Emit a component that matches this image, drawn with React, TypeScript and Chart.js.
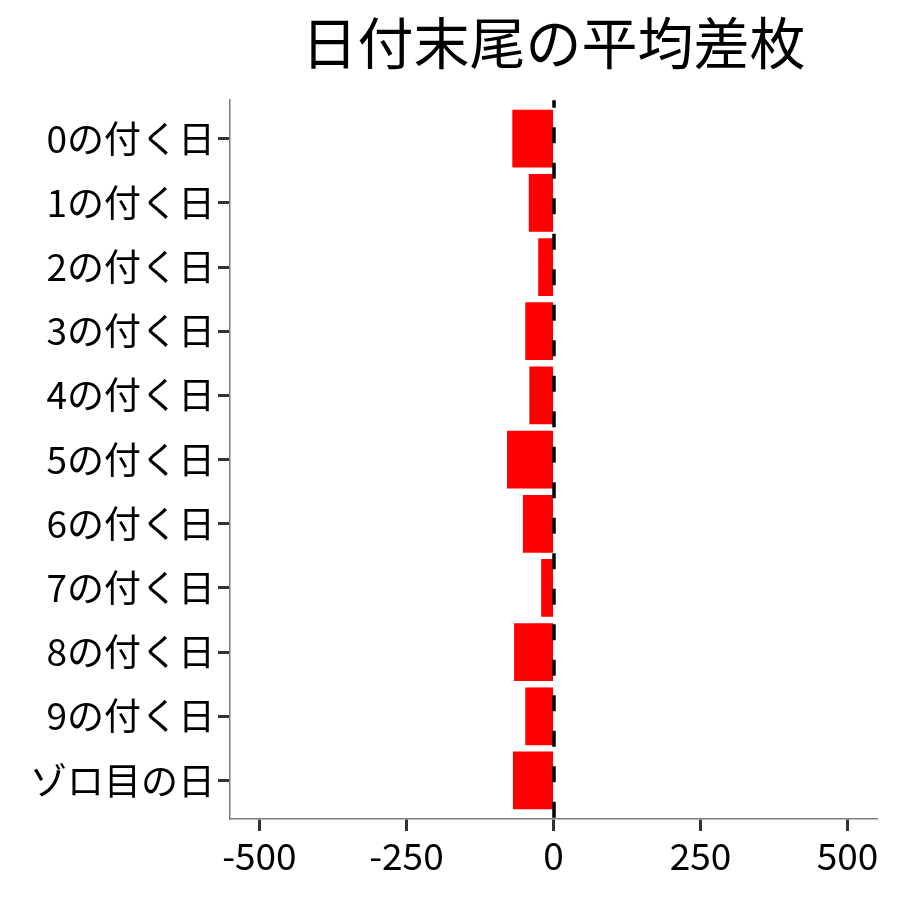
import React, { useEffect, useRef } from "react";
import { Chart, registerables, Plugin } from "chart.js";

Chart.register(...registerables);

const categories = [
  "0の付く日",
  "1の付く日",
  "2の付く日",
  "3の付く日",
  "4の付く日",
  "5の付く日",
  "6の付く日",
  "7の付く日",
  "8の付く日",
  "9の付く日",
  "ゾロ目の日",
];
const avgDiff = [-70, -42, -26, -48, -41, -79, -52, -21, -67, -48, -69];
const xTicks = [-500, -250, 0, 250, 500];

const FONT = "'Noto Sans CJK JP', 'Noto Sans', sans-serif";

const App: React.FC = () => {
  const canvasRef = useRef<HTMLCanvasElement | null>(null);
  const chartRef = useRef<Chart | null>(null);

  useEffect(() => {
    const canvas = canvasRef.current;
    if (!canvas) return;

    // dashed reference line at x = 0, drawn over the bars
    const zeroLine: Plugin<"bar"> = {
      id: "zeroLine",
      afterDatasetsDraw(chart) {
        const { ctx, chartArea } = chart;
        const x = chart.scales.x.getPixelForValue(0) + 0.5;
        ctx.save();
        ctx.strokeStyle = "#000";
        ctx.lineWidth = 3.5;
        ctx.setLineDash([16, 19.5]);
        ctx.lineDashOffset = 8.5;
        ctx.beginPath();
        ctx.moveTo(x, chartArea.top);
        ctx.lineTo(x, chartArea.bottom);
        ctx.stroke();
        ctx.restore();
      },
    };

    chartRef.current = new Chart(canvas, {
      type: "bar",
      data: {
        datasets: [
          {
            data: avgDiff.map((v, i) => ({ x: v, y: i })),
            backgroundColor: "#ff0000",
            borderWidth: 0,
            barPercentage: 0.9,
            categoryPercentage: 1,
          },
        ],
      },
      options: {
        indexAxis: "y",
        animation: false,
        responsive: true,
        maintainAspectRatio: false,
        layout: { padding: { left: 0, right: 23, top: 0, bottom: 0 } },
        plugins: {
          legend: { display: false },
          tooltip: { enabled: false },
          title: {
            display: true,
            text: "日付末尾の平均差枚",
            fullSize: false,
            color: "#000",
            font: { family: FONT, size: 56, weight: "normal", lineHeight: 1.2 },
            padding: { top: 9, bottom: 24 },
          },
        },
        scales: {
          x: {
            type: "linear",
            min: -550,
            max: 550,
            afterBuildTicks: (scale) => {
              scale.ticks = xTicks.map((v) => ({ value: v }));
            },
            afterFit: (scale) => {
              scale.height = 81;
            },
            grid: {
              drawOnChartArea: false,
              drawTicks: true,
              tickLength: 12,
              tickWidth: 3,
              tickColor: "#333",
            },
            border: { display: true, color: "#7f7f7f", width: 1.5 },
            ticks: {
              color: "#000",
              padding: 3,
              font: { family: FONT, size: 37 },
              maxRotation: 0,
            },
          },
          y: {
            type: "linear",
            reverse: true,
            offset: false,
            min: -0.6,
            max: categories.length - 0.4,
            afterBuildTicks: (scale) => {
              scale.ticks = categories.map((_, i) => ({ value: i }));
            },
            afterFit: (scale) => {
              scale.width = 230;
            },
            grid: {
              offset: false,
              drawOnChartArea: false,
              drawTicks: true,
              tickLength: 12,
              tickWidth: 3,
              tickColor: "#333",
            },
            border: { display: true, color: "#7f7f7f", width: 1.5 },
            ticks: {
              color: "#000",
              padding: 3,
              font: { family: FONT, size: 37 },
              callback: (v) => categories[Number(v)] ?? "",
            },
          },
        },
      },
      plugins: [zeroLine],
    });

    return () => {
      if (chartRef.current) {
        chartRef.current.destroy();
        chartRef.current = null;
      }
    };
  }, []);

  return (
    <div
      style={{
        position: "fixed",
        left: 0,
        top: 0,
        width: 900,
        height: 900,
        background: "#fff",
      }}
    >
      <canvas ref={canvasRef} />
    </div>
  );
};

export default App;
